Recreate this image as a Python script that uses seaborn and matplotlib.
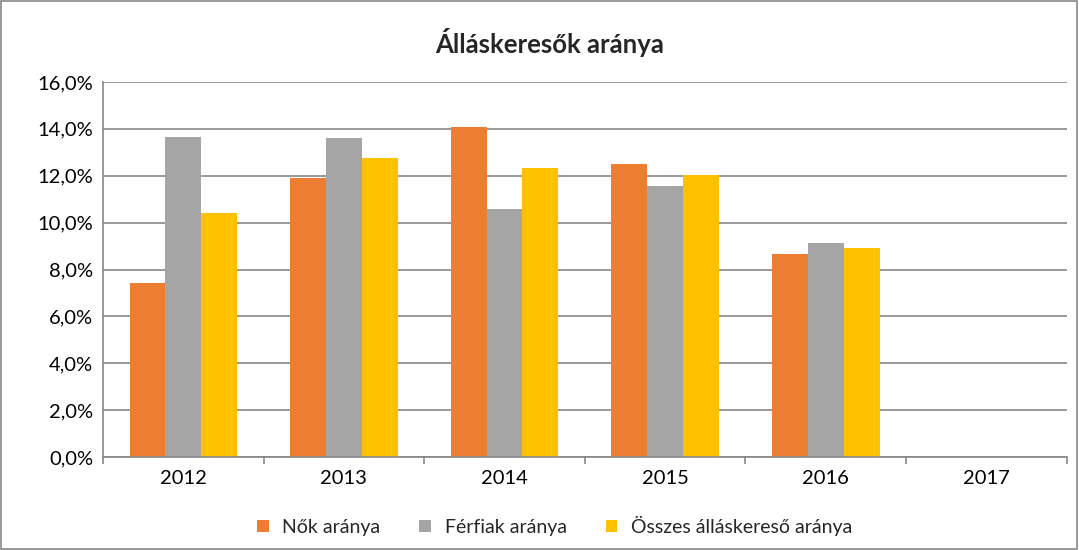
import matplotlib
matplotlib.use('Agg')
import matplotlib.pyplot as plt
import matplotlib.ticker as mticker
import numpy as np
import pandas as pd
import seaborn as sns

# Adatok (leolvasva az ábráról)
years = ['2012', '2013', '2014', '2015', '2016', '2017']
series_names = ['Nők aránya', 'Férfiak aránya', 'Összes álláskereső aránya']
nok = [7.44, 11.92, 14.09, 12.52, 8.68, np.nan]
ferfiak = [13.67, 13.63, 10.60, 11.58, 9.15, np.nan]
osszes = [10.43, 12.77, 12.35, 12.05, 8.93, np.nan]
colors = ['#ED7D31', '#A5A5A5', '#FFC000']

df = pd.DataFrame({'year': years * 3,
                   'series': np.repeat(series_names, len(years)),
                   'value': nok + ferfiak + osszes})

sns.set_style('white')
plt.rcParams['font.family'] = ['Lato', 'DejaVu Sans']

fig = plt.figure(figsize=(10.79, 5.5), dpi=100)
ax = fig.add_axes([0.0955, 0.169, 0.893, 0.682])

sns.barplot(data=df, x='year', y='value', hue='series', order=years,
            hue_order=series_names, palette=colors, width=0.67,
            saturation=1, errorbar=None, linewidth=0, ax=ax)

ax.set_ylim(0, 16)
ax.set_xlim(-0.5, len(years) - 0.5)
ax.yaxis.set_major_locator(mticker.MultipleLocator(2))
ax.yaxis.set_major_formatter(mticker.FuncFormatter(lambda v, p: f'{v:.1f}%'.replace('.', ',')))
ax.grid(axis='y', color='#878787', linewidth=1.2)
ax.set_axisbelow(True)

for s in ['top', 'right']:
    ax.spines[s].set_visible(False)
for s in ['left', 'bottom']:
    ax.spines[s].set_color('#878787')
    ax.spines[s].set_linewidth(1.2)

ax.set_xticks(np.arange(-0.5, len(years)), minor=True)
ax.tick_params(axis='x', which='minor', length=5, color='#878787', width=1.2, direction='out', bottom=True)
ax.tick_params(axis='x', which='major', length=0, labelsize=14.5, pad=9, labelcolor='#000000')
ax.tick_params(axis='y', length=0, labelsize=14.5, pad=7, labelcolor='#000000')
ax.set_xlabel('')
ax.set_ylabel('')

fig.text(0.509, 0.922, 'Álláskeresők aránya', ha='center', va='center',
         fontsize=18.5, fontweight='bold')

handles, labels = ax.get_legend_handles_labels()
ax.legend_.remove()
fig.legend(handles, labels, loc='center', bbox_to_anchor=(0.514, 0.044), ncol=3,
           frameon=False, fontsize=14, handlelength=0.6, handleheight=0.6,
           handletextpad=0.7, columnspacing=2.0)

fig.patches.append(plt.Rectangle((0.001, 0.002), 0.997, 0.996, transform=fig.transFigure,
                                 fill=False, edgecolor='#878787', linewidth=1.2))

fig.savefig('out.png', dpi=100)
